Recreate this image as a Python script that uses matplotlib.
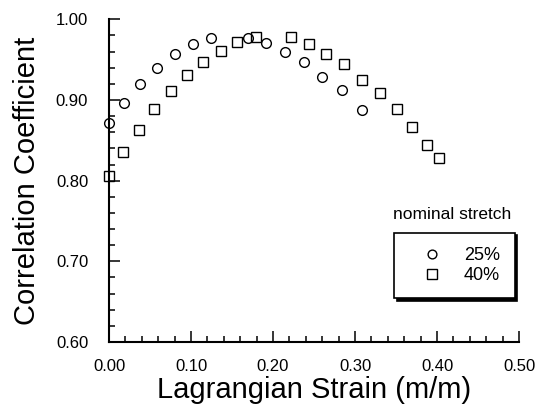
import matplotlib
matplotlib.use("Agg")
import matplotlib.pyplot as plt
from matplotlib.lines import Line2D
from matplotlib.ticker import MultipleLocator, FormatStrFormatter

# nominal stretch 25%
strain_25 = [0.000, 0.018, 0.038, 0.059, 0.080, 0.102, 0.124, 0.169, 0.191, 0.215, 0.238, 0.260, 0.284, 0.308]
corr_25 = [0.871, 0.896, 0.920, 0.940, 0.957, 0.969, 0.977, 0.977, 0.971, 0.959, 0.947, 0.928, 0.912, 0.888]

# nominal stretch 40%
strain_40 = [0.000, 0.017, 0.037, 0.055, 0.075, 0.095, 0.115, 0.137, 0.156, 0.179, 0.222, 0.244,
             0.265, 0.287, 0.309, 0.331, 0.351, 0.370, 0.388, 0.402]
corr_40 = [0.806, 0.836, 0.863, 0.889, 0.911, 0.931, 0.947, 0.961, 0.972, 0.978, 0.978, 0.970,
           0.957, 0.944, 0.925, 0.909, 0.889, 0.866, 0.844, 0.828]

legend_labels = ["25%", "40%"]

plt.rcParams['font.family'] = ['Liberation Sans', 'DejaVu Sans']

fig = plt.figure(figsize=(5.42, 4.12), dpi=100)
ax = fig.add_axes([109/542, 1 - 342/412, 410/542, (342 - 19.3)/412])

ax.plot(strain_25, corr_25, ls='none', marker='o', ms=7, mfc='none', mec='k', mew=1.0, clip_on=False)
ax.plot(strain_40, corr_40, ls='none', marker='s', ms=7, mfc='none', mec='k', mew=1.0, clip_on=False)

ax.set_xlim(0, 0.5)
ax.set_ylim(0.6, 1.0)
ax.xaxis.set_major_locator(MultipleLocator(0.1))
ax.xaxis.set_minor_locator(MultipleLocator(0.02))
ax.yaxis.set_major_locator(MultipleLocator(0.1))
ax.yaxis.set_minor_locator(MultipleLocator(0.02))
ax.xaxis.set_major_formatter(FormatStrFormatter('%.2f'))
ax.yaxis.set_major_formatter(FormatStrFormatter('%.2f'))

for s in ['top', 'right']:
    ax.spines[s].set_visible(False)
for s in ['left', 'bottom']:
    ax.spines[s].set_linewidth(1.5)

ax.tick_params(which='major', direction='in', length=8, width=1.1, labelsize=12)
ax.tick_params(which='minor', direction='in', length=4.5, width=1.1)
ax.tick_params(axis='y', which='major', pad=15)
ax.tick_params(axis='x', which='major', pad=12)

ax.set_xlabel("Lagrangian Strain (m/m)", fontsize=21, labelpad=2)
ax.set_ylabel("Correlation Coefficient", fontsize=21, labelpad=11)

ax.text(0.838, 0.3936, "nominal stretch", transform=ax.transAxes, ha='center', va='center', fontsize=12.5)

handles = [Line2D([], [], ls='none', marker='o', ms=6.3, mfc='none', mec='k', mew=1.0),
           Line2D([], [], ls='none', marker='s', ms=6.5, mfc='none', mec='k', mew=1.0)]
leg = ax.legend(handles, legend_labels, loc='center', bbox_to_anchor=(0.8427, 0.237),
                fontsize=13, frameon=True, fancybox=False, borderpad=0.8,
                handlelength=2.6, handletextpad=0.45, labelspacing=0.15,
                shadow={'color': 'black', 'alpha': 1.0})
frame = leg.get_frame()
frame.set_edgecolor('black')
frame.set_linewidth(1.2)
frame.set_alpha(1.0)

fig.savefig("out.png", dpi=100)
